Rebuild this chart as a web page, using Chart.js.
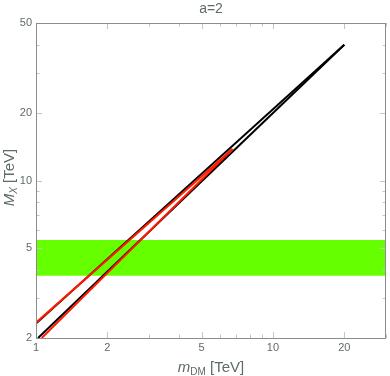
<!DOCTYPE html>
<html>
<head>
<meta charset="utf-8">
<script src="https://cdn.jsdelivr.net/npm/chart.js@4"></script>
<style>
  html, body { margin: 0; padding: 0; background: #fff; }
  #wrap { width: 390px; height: 376px; position: relative; }
</style>
</head>
<body>
<div id="wrap"><canvas id="chart"></canvas></div>
<script>
// axes (log-log)
const xRange = [1, 30];
const yRange = [2, 50];
const xTickLabels = [1, 2, 5, 10, 20];
const yTickLabels = [2, 5, 10, 20, 50];
const xMinorTicks = [1, 2, 3, 4, 5, 6, 7, 8, 9, 10, 20, 30];
const yMinorTicks = [2, 3, 4, 5, 6, 7, 8, 9, 10, 20, 30, 40, 50];

// green band
const bandLow = 3.78;
const bandHigh = 5.45;

// lines: [x0, x1], [y0, y1]
const blackUpperX = [1, 20];
const blackUpperY = [2.32, 40];
const blackLowerX = [1.02, 20];
const blackLowerY = [2, 40];
const redUpperX = [1, 6.75];
const redUpperY = [2.34, 13.8];
const redLowerX = [1.057, 6.75];
const redLowerY = [2, 13.8];

const labelColor = "#5f6a6a";
const frameColor = "#8c8c8c";
const tickColor = "#c4c4c4";
const fontFamily = '"Liberation Sans", Arial, sans-serif';

const pts = (xs, ys) => xs.map((x, i) => ({ x, y: ys[i] }));

function lineSet(xs, ys, color) {
  return {
    data: pts(xs, ys),
    borderColor: color,
    borderWidth: 2,
    pointRadius: 0,
    fill: false,
    tension: 0,
  };
}

// frame, inward ticks, title and axis titles
const decorations = {
  id: "decorations",
  afterDraw(chart) {
    const ctx = chart.ctx;
    const a = chart.chartArea;
    const xs = chart.scales.x;
    const ys = chart.scales.y;
    ctx.save();
    ctx.strokeStyle = tickColor;
    ctx.lineWidth = 1;
    xMinorTicks.forEach((v) => {
      const px = Math.round(xs.getPixelForValue(v)) + 0.5;
      const len = xTickLabels.includes(v) ? 6 : 3.5;
      ctx.beginPath();
      ctx.moveTo(px, a.bottom); ctx.lineTo(px, a.bottom - len);
      ctx.moveTo(px, a.top); ctx.lineTo(px, a.top + len);
      ctx.stroke();
    });
    yMinorTicks.forEach((v) => {
      const py = Math.round(ys.getPixelForValue(v)) + 0.5;
      const len = yTickLabels.includes(v) ? 6 : 3.5;
      ctx.beginPath();
      ctx.moveTo(a.left, py); ctx.lineTo(a.left + len, py);
      ctx.moveTo(a.right, py); ctx.lineTo(a.right - len, py);
      ctx.stroke();
    });
    ctx.strokeStyle = frameColor;
    ctx.strokeRect(Math.round(a.left) + 0.5, Math.round(a.top) + 0.5,
      Math.round(a.right - a.left) - 1, Math.round(a.bottom - a.top));

    const cx = (a.left + a.right) / 2;
    ctx.fillStyle = labelColor;
    ctx.textBaseline = "alphabetic";

    // title
    ctx.font = "14px " + fontFamily;
    ctx.textAlign = "center";
    ctx.fillText("a=2", cx, 13);

    // x title: m_DM [TeV]
    const xParts = [
      { t: "m", f: "italic 15px " + fontFamily, dy: 0 },
      { t: "DM", f: "10px " + fontFamily, dy: 3 },
      { t: " [TeV]", f: "15px " + fontFamily, dy: 0 },
    ];
    drawParts(ctx, xParts, cx, 372);

    // y title: M_X [TeV]
    ctx.save();
    ctx.translate(14, (a.top + a.bottom) / 2 - 3);
    ctx.rotate(-Math.PI / 2);
    const yParts = [
      { t: "M", f: "italic 15px " + fontFamily, dy: 0 },
      { t: "X", f: "italic 10px " + fontFamily, dy: 3 },
      { t: " [TeV]", f: "15px " + fontFamily, dy: 0 },
    ];
    drawParts(ctx, yParts, 0, 0);
    ctx.restore();
    ctx.restore();
  },
};

function drawParts(ctx, parts, cx, baseY) {
  let total = 0;
  parts.forEach((p) => { ctx.font = p.f; p.w = ctx.measureText(p.t).width; total += p.w; });
  let x = cx - total / 2;
  ctx.textAlign = "left";
  parts.forEach((p) => {
    ctx.font = p.f;
    ctx.fillText(p.t, x, baseY + p.dy);
    x += p.w;
  });
}

new Chart(document.getElementById("chart"), {
  type: "line",
  data: {
    datasets: [
      lineSet(redUpperX, redUpperY, "#ff1a00"),
      lineSet(redLowerX, redLowerY, "#ff1a00"),
      lineSet(blackUpperX, blackUpperY, "#000000"),
      lineSet(blackLowerX, blackLowerY, "#000000"),
      {
        data: pts(xRange, [bandHigh, bandHigh]),
        borderWidth: 0,
        borderColor: "rgba(0,0,0,0)",
        backgroundColor: "#66ff00",
        pointRadius: 0,
        fill: { value: bandLow },
      },
    ],
  },
  options: {
    responsive: true,
    maintainAspectRatio: false,
    animation: false,
    layout: { padding: { top: 23, right: 4, left: 0, bottom: 0 } },
    plugins: {
      legend: { display: false },
      tooltip: { enabled: false },
      title: { display: false },
    },
    scales: {
      x: {
        type: "logarithmic",
        min: xRange[0],
        max: xRange[1],
        grid: { display: false, drawTicks: false },
        border: { display: false },
        afterBuildTicks: (s) => { s.ticks = xTickLabels.map((v) => ({ value: v })); },
        afterFit: (s) => { s.height = 38; },
        ticks: {
          color: labelColor,
          font: { family: fontFamily, size: 11 },
          padding: 3,
          maxRotation: 0,
          autoSkip: false,
          callback: (v) => String(v),
        },
      },
      y: {
        type: "logarithmic",
        min: yRange[0],
        max: yRange[1],
        grid: { display: false, drawTicks: false },
        border: { display: false },
        afterBuildTicks: (s) => { s.ticks = yTickLabels.map((v) => ({ value: v })); },
        afterFit: (s) => { s.width = 36; },
        ticks: {
          color: labelColor,
          font: { family: fontFamily, size: 11 },
          padding: 4,
          autoSkip: false,
          callback: (v) => String(v),
        },
      },
    },
  },
  plugins: [decorations],
});
</script>
</body>
</html>
